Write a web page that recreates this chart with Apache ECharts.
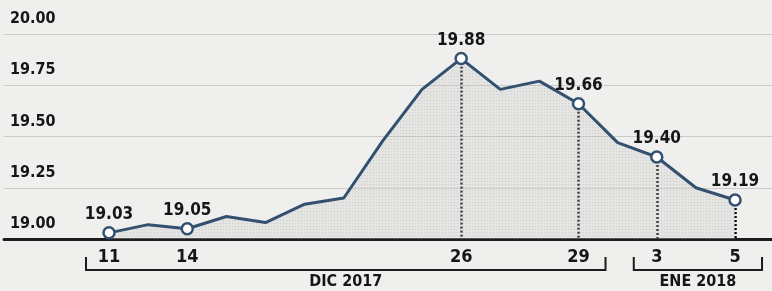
<!DOCTYPE html>
<html>
<head>
<meta charset="utf-8">
<style>
  html, body { margin: 0; padding: 0; background: #efefed; }
  #chart { width: 772px; height: 291px; }
</style>
<script src="https://cdn.jsdelivr.net/npm/echarts@6/dist/echarts.min.js"></script>
</head>
<body>
<div id="chart"></div>
<script>
// ==================== 数据 ====================

// 交易日（12/11 – 1/5）
var days = ['11', '12', '14', '15', '18', '19', '20', '21', '22', '26', '27', '28', '29', '2', '3', '4', '5'];
var rates = [19.03, 19.07, 19.05, 19.11, 19.08, 19.17, 19.20, 19.48, 19.73, 19.88, 19.73, 19.77, 19.66, 19.47, 19.40, 19.25, 19.19];

// 带圆点和数值标注的交易日（下标）
var markedIdx = [0, 2, 9, 12, 14, 16];
// 有虚线落到横轴的点
var dropIdx = [9, 12, 14, 16];

var yTicks = [19.00, 19.25, 19.50, 19.75, 20.00];

// 月份括号
var months = [
  { name: 'DIC 2017', from: 0, to: 12 },
  { name: 'ENE 2018', from: 14, to: 16 },
];

(function () {
  'use strict';

  var FONT = "'Liberation Sans Narrow', 'DejaVu Sans Condensed', 'Roboto', sans-serif";
  var INK = '#161616';
  var LINE = '#33506f';

  // 网点底纹
  function dotPattern() {
    var c = document.createElement('canvas');
    c.width = 3; c.height = 3;
    var ctx = c.getContext('2d');
    ctx.fillStyle = 'rgba(205,205,203,0.45)';
    ctx.fillRect(0, 0, 3, 3);
    ctx.fillStyle = 'rgba(150,150,150,0.45)';
    ctx.fillRect(1, 1, 1, 1);
    return c;
  }

  var seriesData = rates.map(function (v, i) {
    var marked = markedIdx.indexOf(i) >= 0;
    return {
      value: [i, v],
      symbol: marked ? 'circle' : 'none',
      label: { show: marked },
    };
  });

  var drops = dropIdx.map(function (i) {
    return [{ coord: [i, rates[i]] }, { coord: [i, yTicks[0]] }];
  });

  var chart = echarts.init(document.getElementById('chart'));

  chart.setOption({
    backgroundColor: '#efefed',
    animation: false,
    grid: { left: 4, right: 0, top: 34, bottom: 52 },
    xAxis: {
      type: 'value',
      min: -2.684,
      max: 16.945,
      splitLine: { show: false },
      axisTick: { show: false },
      axisLine: { show: true, onZero: false, lineStyle: { color: '#1c1c1c', width: 3 } },
      axisLabel: {
        customValues: markedIdx,
        formatter: function (v) { return days[Math.round(v)]; },
        color: INK, fontFamily: FONT, fontWeight: 'bold', fontSize: 18,
        margin: 9,
      },
    },
    yAxis: {
      type: 'value',
      min: yTicks[0],
      max: yTicks[yTicks.length - 1],
      interval: 0.25,
      axisLine: { show: false },
      axisTick: { show: false },
      splitLine: { lineStyle: { color: '#cbcbc9', width: 1.2 } },
      axisLabel: {
        inside: true,
        margin: 6,
        verticalAlign: 'bottom',
        padding: [0, 0, 7, 0],
        formatter: function (v) { return v.toFixed(2); },
        color: INK, fontFamily: FONT, fontWeight: 'bold', fontSize: 16,
      },
    },
    series: [{
      type: 'line',
      data: seriesData,
      symbolSize: 11,
      itemStyle: { color: '#ffffff', borderColor: LINE, borderWidth: 2.5 },
      lineStyle: { color: LINE, width: 3 },
      areaStyle: { color: { image: dotPattern(), repeat: 'repeat' }, origin: 'start' },
      label: {
        position: 'top',
        distance: 3,
        formatter: function (p) { return p.value[1].toFixed(2); },
        color: INK, fontFamily: FONT, fontWeight: 'bold', fontSize: 17,
      },
      markLine: {
        silent: true,
        z: 1,
        symbol: 'none',
        label: { show: false },
        lineStyle: { color: '#000', type: [2, 2], width: 2.5 },
        data: drops,
      },
      z: 3,
    }],
  });

  // ==================== 月份括号 ====================

  function drawBrackets() {
    var base = chart.convertToPixel({ gridIndex: 0 }, [0, yTicks[0]])[1];
    var yLine = base + 31, yTop = base + 18;
    var els = [];
    months.forEach(function (m) {
      var x0 = chart.convertToPixel({ gridIndex: 0 }, [m.from, yTicks[0]])[0] - 23;
      var x1 = chart.convertToPixel({ gridIndex: 0 }, [m.to, yTicks[0]])[0] + 27;
      els.push({
        type: 'polyline',
        shape: { points: [[x0, yTop], [x0, yLine], [x1, yLine], [x1, yTop]] },
        style: { stroke: '#1c1c1c', lineWidth: 2, fill: null },
      });
      els.push({
        type: 'text',
        x: (x0 + x1) / 2,
        y: yLine + 12,
        style: {
          text: m.name, align: 'center', verticalAlign: 'middle',
          font: 'bold 16px ' + FONT, fill: INK,
        },
      });
    });
    chart.setOption({ graphic: els });
  }

  drawBrackets();
})();
</script>
</body>
</html>
